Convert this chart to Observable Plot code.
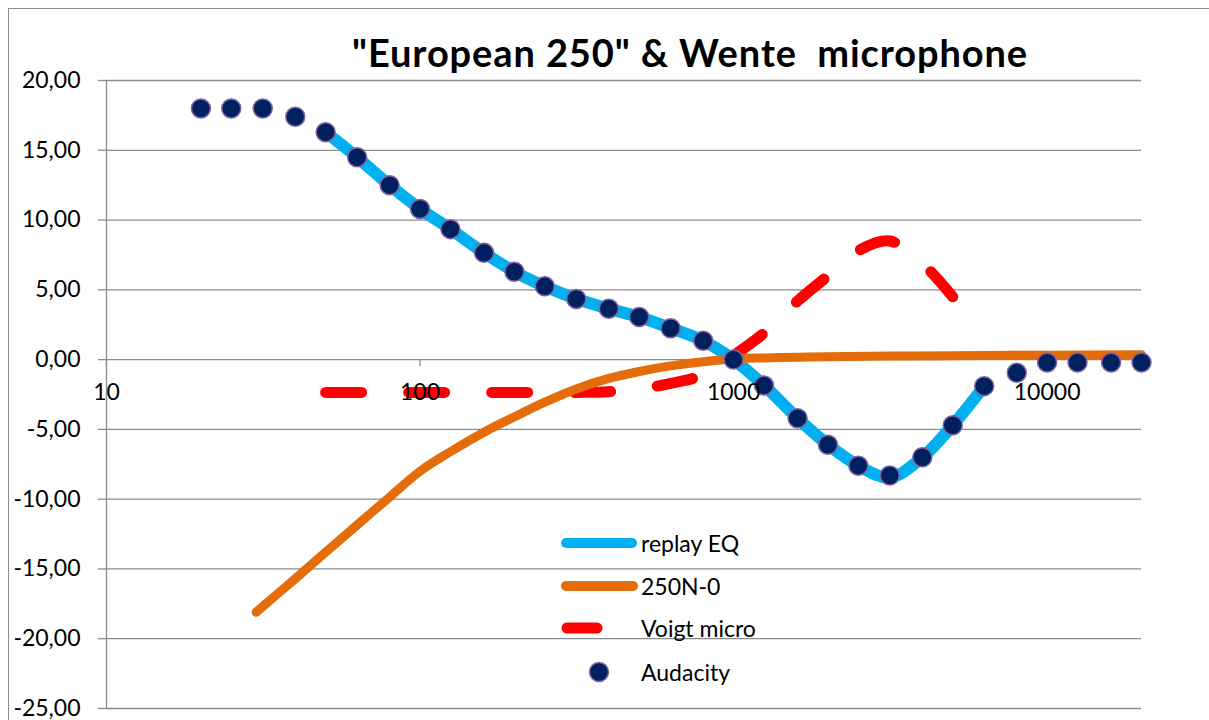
<!DOCTYPE html>
<html><head><meta charset="utf-8">
<script src="https://cdn.jsdelivr.net/npm/d3@7"></script>
<script src="https://cdn.jsdelivr.net/npm/@observablehq/plot@0.6"></script>
<style>
body{margin:0;background:#fff;overflow:hidden;font-family:Lato, sans-serif;}
#wrap{position:relative;width:1209px;height:720px;overflow:hidden;background:#fff;}
#chart{position:absolute;left:0;top:0;}
#border{position:absolute;left:8px;top:8px;width:1400px;height:900px;border-left:1.5px solid #8c8c8c;border-top:1.5px solid #8c8c8c;pointer-events:none;}
.row{position:absolute;left:556px;height:34px;display:flex;align-items:center;white-space:nowrap;font-size:23px;color:#000;font-family:Lato, sans-serif;}
</style></head><body>
<div id="wrap"><div id="chart"></div><div id="border"></div></div>
<script>
// ---- data ----
const title = "\"European 250\" & Wente  microphone";
const yTicks = [-25, -20, -15, -10, -5, 0, 5, 10, 15, 20];
const xTicks = [10, 100, 1000, 10000];
const legendLabels = ["replay EQ", "250N-0", "Voigt micro", "Audacity"];

const freqAudacity = [20, 25, 31.5, 40, 50, 63, 80, 100, 125, 160, 200, 250, 315, 400, 500, 630, 800, 1000, 1250, 1600, 2000, 2500, 3150, 4000, 5000, 6300, 8000, 10000, 12500, 16000, 20000];
const audacity = [18.0, 18.0, 18.0, 17.4, 16.3, 14.5, 12.5, 10.8, 9.35, 7.65, 6.3, 5.25, 4.35, 3.65, 3.05, 2.25, 1.35, 0.0, -1.85, -4.2, -6.1, -7.6, -8.3, -7.0, -4.7, -1.9, -0.95, -0.2, -0.2, -0.2, -0.2];

const freqReplay = [50, 63, 80, 100, 125, 160, 200, 250, 315, 400, 500, 630, 800, 1000, 1250, 1600, 2000, 2500, 3150, 4000, 5000, 6300];
const replayEQ = [16.3, 14.5, 12.5, 10.8, 9.35, 7.65, 6.3, 5.25, 4.35, 3.65, 3.05, 2.25, 1.35, 0.0, -1.85, -4.2, -6.1, -7.6, -8.45, -7.0, -4.7, -1.9];

const freq250 = [30, 40, 50, 63, 80, 100, 125, 160, 200, 250, 315, 400, 500, 630, 800, 1000, 1250, 1600, 2000, 3150, 5000, 10000, 20000];
const n250 = [-18.1, -15.7, -13.8, -11.85, -9.85, -8.0, -6.6, -5.2, -4.1, -3.05, -2.1, -1.35, -0.85, -0.45, -0.15, 0.05, 0.12, 0.17, 0.2, 0.25, 0.28, 0.32, 0.35];

const freqVoigt = [50, 63, 80, 100, 125, 160, 200, 250, 315, 400, 500, 630, 800, 1000, 1250, 1600, 2000, 2500, 3150, 4000, 5000];
const voigt = [-2.35, -2.35, -2.35, -2.35, -2.35, -2.35, -2.35, -2.35, -2.35, -2.3, -2.1, -1.7, -1.1, 0.3, 1.9, 4.2, 6.0, 7.8, 8.5, 6.9, 4.5];

// ---- build ----
const rows = (fs, vs) => fs.map((f, i) => ({f, v: vs[i]}));
const fmtY = d => d.toFixed(2).replace(".", ",");
const grid = "#8c8c8c";

const chart = Plot.plot({
  width: 1209, height: 720,
  marginLeft: 106, marginRight: 68, marginTop: 80, marginBottom: 12,
  style: {fontFamily: "Lato, sans-serif", fontSize: "23px", background: "transparent", color: "black"},
  x: {type: "log", domain: [10, 20000], axis: null},
  y: {domain: [-25, 20]},
  marks: [
    Plot.gridY(yTicks, {stroke: grid, strokeOpacity: 1, strokeWidth: 1.3}),
    Plot.axisY(yTicks, {tickSize: 8, tickPadding: 18, tickFormat: fmtY, stroke: grid, strokeWidth: 1.3, fill: "black", fontSize: 23, label: null}),
    Plot.ruleX([10], {stroke: grid, strokeWidth: 1.3}),
    Plot.ruleX(xTicks, {x: d => d, y1: () => 0, y2: () => -0.5, stroke: grid, strokeWidth: 1.3}),
    Plot.line(rows(freqReplay, replayEQ), {x: "f", y: "v", stroke: "#00b0f0", strokeWidth: 12, curve: "catmull-rom", strokeLinecap: "round", strokeLinejoin: "round"}),
    Plot.line(rows(freqVoigt, voigt), {x: "f", y: "v", stroke: "#ff0000", strokeWidth: 11, curve: "catmull-rom", strokeDasharray: "36,47", strokeLinecap: "round", strokeLinejoin: "round"}),
    Plot.line(rows(freq250, n250), {x: "f", y: "v", stroke: "#e46c0a", strokeWidth: 9, curve: "catmull-rom", strokeLinecap: "round", strokeLinejoin: "round"}),
    Plot.dot(rows(freqAudacity, audacity), {x: "f", y: "v", r: 9.5, fill: "#002060", stroke: "#8064a2", strokeWidth: 1.5}),
    Plot.text(xTicks, {x: d => d, y: () => 0, dy: 33, text: d => String(d), fontSize: 23, fill: "black"}),
    Plot.text([title], {frameAnchor: "top", lineAnchor: "middle", text: d => d, dx: 66, dy: -26, fontSize: 38, fontWeight: "bold", fill: "black", className: "ttl"})
  ]
});
d3.select(chart).selectAll("text").filter(function() { return this.textContent === title; }).attr("letter-spacing", "0.9px");
document.getElementById("chart").appendChild(chart);

// ---- legend ----
const wrap = document.getElementById("wrap");
const centers = [543, 586, 628, 672];
const ns = "http://www.w3.org/2000/svg";
const legendStyles = [
  {type: "line", stroke: "#00b0f0", w: 10, x1: 10, x2: 76},
  {type: "line", stroke: "#e46c0a", w: 10, x1: 10, x2: 77},
  {type: "line", stroke: "#ff0000", w: 11, x1: 11, x2: 41},
  {type: "dot"}
];
legendLabels.forEach((lab, i) => {
  const row = document.createElement("div");
  row.className = "row";
  row.style.top = (centers[i] - 17) + "px";
  const svg = document.createElementNS(ns, "svg");
  svg.setAttribute("width", 85); svg.setAttribute("height", 34);
  const st = legendStyles[i];
  if (st.type === "line") {
    const l = document.createElementNS(ns, "line");
    l.setAttribute("x1", st.x1); l.setAttribute("x2", st.x2);
    l.setAttribute("y1", 17); l.setAttribute("y2", 17);
    l.setAttribute("stroke", st.stroke); l.setAttribute("stroke-width", st.w);
    l.setAttribute("stroke-linecap", "round");
    svg.appendChild(l);
  } else {
    const c = document.createElementNS(ns, "circle");
    c.setAttribute("cx", 43); c.setAttribute("cy", 17); c.setAttribute("r", 9.5);
    c.setAttribute("fill", "#002060"); c.setAttribute("stroke", "#8064a2"); c.setAttribute("stroke-width", 1.5);
    svg.appendChild(c);
  }
  row.appendChild(svg);
  const sp = document.createElement("span");
  sp.textContent = lab;
  row.appendChild(sp);
  wrap.appendChild(row);
});
</script>
</body></html>
